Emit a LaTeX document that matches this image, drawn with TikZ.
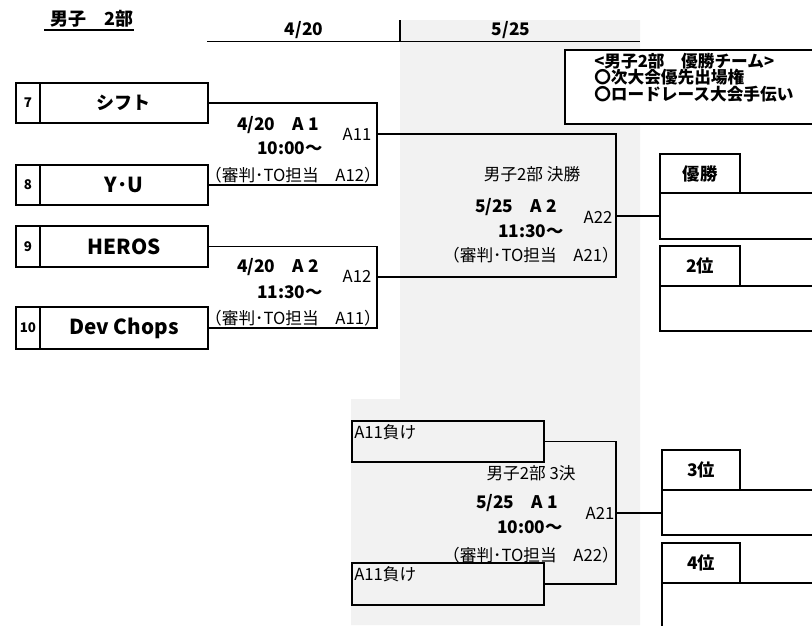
\documentclass[tikz,border=0pt]{standalone}
\usepackage{fontspec}
\setmainfont{Noto Sans CJK JP}
\usetikzlibrary{fit}
\definecolor{bg}{HTML}{F2F2F2}
\begin{document}
\begin{tikzpicture}[x=0.75pt,y=-0.75pt,
  teambox/.style={draw, line width=1.4pt, inner sep=0pt},
  thinbox/.style={draw, line width=0.9pt, inner sep=0pt},
  resbox/.style={draw, line width=2.2pt, inner sep=0pt, fill=white},
  conn/.style={line width=0.9pt},
  small/.style={font=\fontsize{12.5}{14}\selectfont, inner sep=0pt},
  bsmall/.style={font=\bfseries\fontsize{13}{15}\selectfont, inner sep=0pt},
  tname/.style={font=\bfseries\fontsize{15.5}{18}\selectfont, inner sep=0pt},
  tnum/.style={font=\bfseries\fontsize{10}{12}\selectfont, inner sep=0pt},
  rlabel/.style={font=\bfseries\fontsize{13}{15}\selectfont, inner sep=0pt},
  prize/.style={font=\bfseries\fontsize{12.5}{14}\selectfont, inner sep=0pt, anchor=west}]
\useasboundingbox (0,0) rectangle (812,625);
\clip (0,0) rectangle (812,625);
% gray background
\fill[bg] (400,20) -- (640,20) -- (640,625) -- (351,625) -- (351,399) -- (400,399) -- cycle;
% header
\node[font=\bfseries\fontsize{13.5}{15}\selectfont, inner sep=0pt] (title) at (92,19) {男子　2部};
\draw[line width=1.1pt] (44,30) -- (134,30);
\draw[conn] (207,41.5) -- (640,41.5);
\draw[conn] (400,20) -- (400,41.5);
\node[bsmall] (d1) at (304,30) {4/20};
\node[bsmall] (d2) at (511,30) {5/25};
% team boxes
\node[teambox, fit={(16,83) (40,123)}] (n7) {};
\node[teambox, fit={(40,83) (208,123)}] (t7) {};
\node[teambox, fit={(16,165) (40,205)}] (n8) {};
\node[teambox, fit={(40,165) (208,205)}] (t8) {};
\node[teambox, fit={(16,226) (40,267)}] (n9) {};
\node[teambox, fit={(40,226) (208,267)}] (t9) {};
\node[teambox, fit={(16,307) (40,349)}] (n10) {};
\node[teambox, fit={(40,307) (208,349)}] (t10) {};
\node[tnum] (n7l) at (n7.center) {7};
\node[tnum] (n8l) at (n8.center) {8};
\node[tnum] (n9l) at (n9.center) {9};
\node[tnum] (n10l) at (n10.center) {10};
\node[font=\bfseries\fontsize{13.5}{15}\selectfont, inner sep=0pt] (t7l) at ([xshift=-0.75pt]t7.center) {シフト};
\node[tname] (t8l) at (t8.center) {Y･U};
\node[tname] (t9l) at (t9.center) {HEROS};
\node[tname] (t10l) at (t10.center) {Dev Chops};
% first round brackets
\coordinate (m1) at (377,134);
\coordinate (m2) at (377,277);
\draw[conn] (t7.east) -| (m1) |- (t8.east);
\draw[conn] (t9.east) -| (m2) |- (t10.east);
\node[bsmall] (a1a) at (278,125) {4/20　A 1};
\node[bsmall] (a1b) at (290,148) {10:00～};
\node[small] (a1c) at (293,175) {（審判･TO担当　A12）};
\node[small] (a1d) at (357,134) {A11};
\node[bsmall] (a2a) at (278,267) {4/20　A 2};
\node[bsmall] (a2b) at (290,292) {11:30～};
\node[small] (a2c) at (293,318) {（審判･TO担当　A11）};
\node[small] (a2d) at (357,276) {A12};
% result boxes
\node[resbox, fit={(660,193) (822,239)}] (w1) {};
\node[resbox, fit={(660,154) (740,193)}] (w1l) {};
\node[resbox, fit={(660,286) (822,331)}] (w2) {};
\node[resbox, fit={(660,246) (740,286)}] (w2l) {};
\node[resbox, fit={(662,490) (822,535)}] (w3) {};
\node[resbox, fit={(662,450) (740,490)}] (w3l) {};
\node[resbox, fit={(662,583) (822,650)}] (w4) {};
\node[resbox, fit={(662,543) (740,583)}] (w4l) {};
\node[rlabel] (w1t) at (w1l.center) {優勝};
\node[rlabel] (w2t) at (w2l.center) {2位};
\node[rlabel] (w3t) at (w3l.center) {3位};
\node[rlabel] (w4t) at (w4l.center) {4位};
% final
\coordinate (f) at (616,216);
\draw[conn] (m1) -| (f) |- (m2);
\draw[conn] (f) -- (w1.west |- f);
\node[small] (fa) at (532,174) {男子2部 決勝};
\node[bsmall] (fb) at (516,207) {5/25　A 2};
\node[bsmall] (fc) at (531,231) {11:30～};
\node[small] (fd) at (531,255) {（審判･TO担当　A21）};
\node[small] (fe) at (598,217) {A22};
% third place
\node[thinbox, fit={(352,421) (544,462)}] (l1) {};
\node[thinbox, fit={(352,563) (544,605)}] (l2) {};
\node[small, anchor=west] (l1t) at (354,432) {A11負け};
\node[small, anchor=west] (l2t) at (354,574) {A11負け};
\coordinate (g) at (616,513);
\draw[conn] (l1.east) -| (g) |- (l2.east);
\draw[conn] (g) -- (w3.west |- g);
\node[small] (ga) at (531,473) {男子2部 3決};
\node[bsmall] (gb) at (517,503) {5/25　A 1};
\node[bsmall] (gc) at (530,527) {10:00～};
\node[small] (gd) at (531,555) {（審判･TO担当　A22）};
\node[small] (ge) at (600,513) {A21};
% prize box
\node[resbox, fit={(565,50) (814,124)}] (pz) {};
\node[prize] (p1) at (594,61) {<男子2部　優勝チーム>};
\node[prize] (p2) at (594,77.5) {〇次大会優先出場権};
\node[prize] (p3) at (594,94) {〇ロードレース大会手伝い};
\end{tikzpicture}
\end{document}
